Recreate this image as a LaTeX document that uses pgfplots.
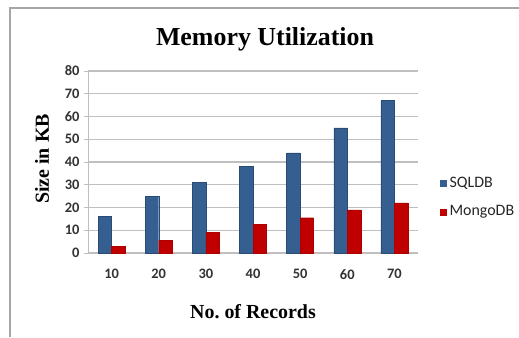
\documentclass[border=0pt]{standalone}
\usepackage{pgfplots}
\pgfplotsset{compat=1.18}
\usepackage{fontspec}
\setmainfont{Liberation Serif}
\newfontfamily\calib{Carlito}
\definecolor{sqlblue}{HTML}{355E91}
\definecolor{mongored}{HTML}{C00000}
\definecolor{gridgray}{HTML}{BFBFBF}
\begin{document}
\frenchspacing
\begin{tikzpicture}[x=1bp,y=1bp]
\useasboundingbox (0,0) rectangle (519,337);
\draw[gray!70, line width=1.5bp] (10,0) -- (10,329) -- (519,329);
\begin{axis}[
  at={(88bp,84bp)}, anchor=south west,
  scale only axis, width=330bp, height=182bp,
  ymin=0, ymax=80, ytick={0,10,...,80},
  xmin=-0.5, xmax=6.5,
  xtick={0,...,6}, xticklabels={10,20,30,40,50,60,70},
  ybar=0pt, bar width=13.5bp,
  axis x line*=bottom, axis y line*=left,
  axis line style={gridgray, line width=1bp},
  ymajorgrids, grid style={gridgray, line width=1.2bp},
  major tick length=4bp,
  ytick style={gridgray, line width=1bp},
  xtick style={draw=none},
  tick align=outside,
  yticklabel style={font=\calib\bfseries\fontsize{14.5}{14.5}\selectfont, color=black!80, xshift=-1bp},
  xticklabel style={font=\calib\bfseries\fontsize{14.5}{14.5}\selectfont, color=black!80, yshift=-9bp},
  /pgf/number format/assume math mode=true,
  clip=false,
]
\addplot[fill=sqlblue, draw=sqlblue!80!black] coordinates {(0,16) (1,25) (2,31) (3,38) (4,44) (5,55) (6,67)};
\addplot[fill=mongored, draw=mongored!90!black] coordinates {(0,3) (1,5.5) (2,9) (3,12.5) (4,15.5) (5,19) (6,22)};
\end{axis}
\node[font=\bfseries\fontsize{26}{26}\selectfont] at (265,298) {Memory Utilization};
\node[font=\bfseries\fontsize{20}{20}\selectfont, rotate=90] at (42,178) {Size in KB};
\node[font=\bfseries\fontsize{20}{20}\selectfont] at (253,25) {No. of Records};
\fill[sqlblue] (440,150.5) rectangle (447,157.5);
\node[anchor=west, font=\calib\fontsize{16}{16}\selectfont, color=black!85] at (446,154) {SQLDB};
\fill[mongored] (440,121.5) rectangle (447,128.5);
\node[anchor=west, font=\calib\fontsize{16}{16}\selectfont, color=black!85] at (446,125) {MongoDB};
\end{tikzpicture}
\end{document}
